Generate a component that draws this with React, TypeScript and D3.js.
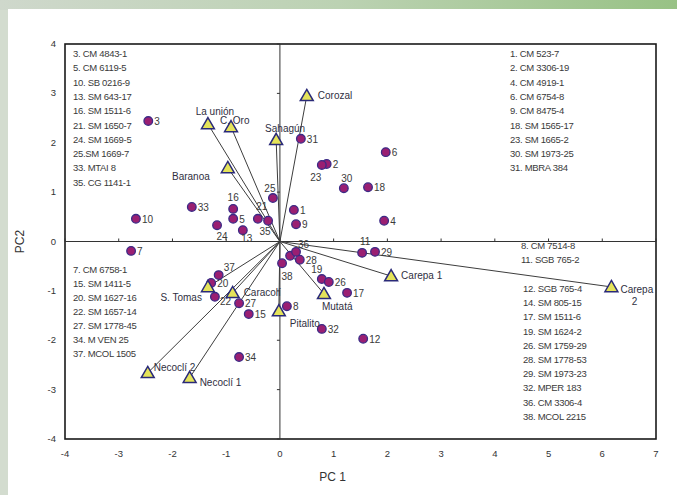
import React from "react";
import * as d3 from "d3";

// genotypes 1..38, biplot scores
const genoIds = d3.range(1, 39);
const genoPC1 = [
  0.26, 0.87, -2.45, 1.94, -0.87, 1.97, -2.77, 0.13, 0.3, -2.68,
  1.53, 1.55, -0.69, 0.19, -0.58, -0.87, 1.25, 1.64, 0.78, -1.28,
  -0.41, -1.21, 0.78, -1.17, -0.13, 0.91, -0.76, 0.37, 1.77, 1.19,
  0.39, 0.78, -1.64, -0.76, -0.22, 0.3, -1.14, 0.04,
];
const genoPC2 = [
  0.64, 1.57, 2.44, 0.42, 0.46, 1.81, -0.19, -1.31, 0.35, 0.46,
  -0.23, -1.97, 0.23, -0.29, -1.47, 0.66, -1.04, 1.1, -0.76, -0.84,
  0.46, -1.12, 1.55, 0.33, 0.88, -0.82, -1.25, -0.37, -0.21, 1.08,
  2.08, -1.77, 0.7, -2.34, 0.42, -0.21, -0.68, -0.44,
];

// environments (vectors from origin)
const envNames = [
  "Corozal", "La unión", "C. Oro", "Sahagún", "Baranoa", "Carepa 1", "Carepa 2",
  "Mutatá", "Pitalito", "Caracolí", "S. Tomas", "Necoclí 2", "Necoclí 1",
];
const envPC1 = [0.5, -1.34, -0.91, -0.07, -0.97, 2.07, 6.17, 0.82, -0.02, -0.88, -1.34, -2.46, -1.68];
const envPC2 = [2.95, 2.38, 2.32, 2.06, 1.49, -0.7, -0.92, -1.06, -1.41, -1.04, -0.92, -2.66, -2.76];

const xTicks = [-4, -3, -2, -1, 0, 1, 2, 3, 4, 5, 6, 7];
const yTicks = [-4, -3, -2, -1, 0, 1, 2, 3, 4];

const legendTopLeft = [
  "3. CM 4843-1", "5. CM 6119-5", "10. SB 0216-9", "13. SM 643-17", "16. SM 1511-6",
  "21. SM 1650-7", "24. SM 1669-5", "25.SM 1669-7", "33.  MTAI 8", "35. CG 1141-1",
];
const legendTopRight = [
  "1. CM 523-7", "2. CM 3306-19", "4. CM 4919-1", "6. CM 6754-8", "9. CM 8475-4",
  "18. SM 1565-17", "23. SM 1665-2", "30. SM 1973-25", "31. MBRA 384",
];
const legendMidRight = ["8. CM 7514-8", "11. SGB 765-2"];
const legendBottomRight = [
  "12. SGB 765-4", "14. SM 805-15", "17. SM 1511-6", "19. SM 1624-2", "26.  SM 1759-29",
  "28.  SM 1778-53", "29. SM 1973-23", "32. MPER 183", "36. CM 3306-4", "38. MCOL 2215",
];
const legendBottomLeft = [
  "7. CM 6758-1", "15. SM 1411-5", "20. SM 1627-16", "22. SM 1657-14",
  "27. SM 1778-45", "34. M VEN 25", "37. MCOL 1505",
];

// label placement tweaks [dx, dy, anchor]
const ptLabel: Record<number, [number, number, string]> = {
  16: [0, -8, "middle"],
  24: [5, 15, "middle"],
  13: [4, 12, "middle"],
  23: [-6, 16, "middle"],
  30: [3, -6, "middle"],
  25: [-3, -6, "middle"],
  21: [4, -9, "middle"],
  35: [-3, 14, "middle"],
  37: [5, -4, "start"],
  22: [5, 8, "start"],
  38: [5, 17, "middle"],
  19: [-5, -6, "middle"],
  11: [3, -8, "middle"],
  36: [2, -4, "start"],
};
const envLabel: Record<string, [number, number, string]> = {
  "Corozal": [11, 3, "start"],
  "La unión": [7, -9, "middle"],
  "C. Oro": [-11, -3, "start"],
  "Sahagún": [9, -8, "middle"],
  "Baranoa": [-18, 12, "end"],
  "Carepa 1": [10, 3, "start"],
  "Carepa 2": [9, 6, "start"],
  "Mutatá": [-2, 16, "start"],
  "Pitalito": [11, 16, "start"],
  "Caracolí": [11, 3, "start"],
  "S. Tomas": [-6, 14, "end"],
  "Necoclí 2": [6, -2, "start"],
  "Necoclí 1": [10, 8, "start"],
};

const W = 677;
const H = 495;
const plot = { left: 65, right: 656, top: 44, bottom: 439 };
const font = "Liberation Sans, Arial, sans-serif";

export default function App() {
  const x = d3.scaleLinear().domain([-4, 7]).range([plot.left, plot.right]);
  const y = d3.scaleLinear().domain([-4, 4]).range([plot.bottom, plot.top]);
  const tri = d3.symbol(d3.symbolTriangle, 72)();

  const legend = (lines: string[], lx: number, ly: number, step: number) =>
    lines.map((t, i) => (
      <text key={t} x={lx} y={ly + i * step} fontSize={9.5} fill="#3a3a3a" letterSpacing={-0.3}>
        {t}
      </text>
    ));

  return (
    <svg width={W} height={H} style={{ position: "absolute", left: 0, top: 0 }} fontFamily={font}>
      <defs>
        <linearGradient id="topband" x1="0" x2="1" y1="0" y2="0">
          <stop offset="0" stopColor="#cfd8cc" />
          <stop offset="0.5" stopColor="#bcd2b3" />
          <stop offset="1" stopColor="#98c285" />
        </linearGradient>
      </defs>
      <rect width={W} height={H} fill="#d3dccf" />
      <rect width={W} height={10} fill="url(#topband)" />
      <rect x={8} y={9} width={W - 8} height={H - 9} fill="#ffffff" />

      {/* frame */}
      <rect
        x={plot.left}
        y={plot.top}
        width={plot.right - plot.left}
        height={plot.bottom - plot.top}
        fill="none"
        stroke="#1a1a1a"
        strokeWidth={1.6}
      />

      {/* zero axes */}
      <line x1={plot.left} x2={plot.right} y1={y(0)} y2={y(0)} stroke="#333" strokeWidth={1} />
      <line x1={x(0)} x2={x(0)} y1={plot.top} y2={plot.bottom} stroke="#333" strokeWidth={1} />
      {xTicks.map((t) => (
        <line key={"xt" + t} x1={x(t)} x2={x(t)} y1={y(0) - 3} y2={y(0)} stroke="#333" />
      ))}
      {yTicks.map((t) => (
        <line key={"yt" + t} x1={x(0) - 3} x2={x(0)} y1={y(t)} y2={y(t)} stroke="#333" />
      ))}

      {/* tick labels */}
      {xTicks.map((t) => (
        <text key={"xl" + t} x={x(t)} y={457} fontSize={9.5} textAnchor="middle" fill="#333">
          {t}
        </text>
      ))}
      {yTicks.map((t) => (
        <text key={"yl" + t} x={56} y={y(t) + 3} fontSize={9.5} textAnchor="end" fill="#333">
          {t}
        </text>
      ))}
      <text x={x(1) - 1} y={481} fontSize={12} textAnchor="middle" fill="#333">
        PC 1
      </text>
      <text
        transform={`translate(24,${y(0)}) rotate(-90)`}
        fontSize={12}
        textAnchor="middle"
        fill="#333"
      >
        PC2
      </text>

      {/* legends */}
      {legend(legendTopLeft, 73, 57, 14.3)}
      {legend(legendTopRight, 510, 57, 14.3)}
      {legend(legendMidRight, 521, 249, 14)}
      {legend(legendBottomRight, 523, 292, 14.2)}
      {legend(legendBottomLeft, 73, 273, 14)}

      {/* environment vectors */}
      {envNames.map((n, i) => (
        <line
          key={"v" + n}
          x1={x(0)}
          y1={y(0)}
          x2={x(envPC1[i])}
          y2={y(envPC2[i])}
          stroke="#3d3d3d"
          strokeWidth={1}
        />
      ))}

      {/* genotypes */}
      {genoIds.map((id, i) => {
        const cx = x(genoPC1[i]);
        const cy = y(genoPC2[i]);
        const p = ptLabel[id] || [6, 4, "start"];
        return (
          <g key={"g" + id}>
            <circle cx={cx} cy={cy} r={4.3} fill="#9a1f72" stroke="#3b2a86" strokeWidth={1.3} />
            {id !== 14 && (
              <text x={cx + p[0]} y={cy + p[1]} fontSize={10} textAnchor={p[2]} fill="#3a3a3a">
                {id}
              </text>
            )}
          </g>
        );
      })}

      {/* environments */}
      {envNames.map((n, i) => {
        const tx = x(envPC1[i]);
        const ty = y(envPC2[i]);
        const l = envLabel[n];
        return (
          <g key={"e" + n}>
            <path d={tri || ""} transform={`translate(${tx},${ty + 1})`} fill="#e4e35a" stroke="#2a2a78" strokeWidth={1.5} />
            {n === "Carepa 2" ? (
              <text x={tx + l[0]} y={ty + l[1]} fontSize={10} fill="#2f2f3f">
                Carepa
                <tspan x={tx + 23} dy={12} textAnchor="middle">2</tspan>
              </text>
            ) : (
              <text x={tx + l[0]} y={ty + l[1]} fontSize={10} textAnchor={l[2]} fill="#2f2f3f">
                {n}
              </text>
            )}
          </g>
        );
      })}
    </svg>
  );
}
